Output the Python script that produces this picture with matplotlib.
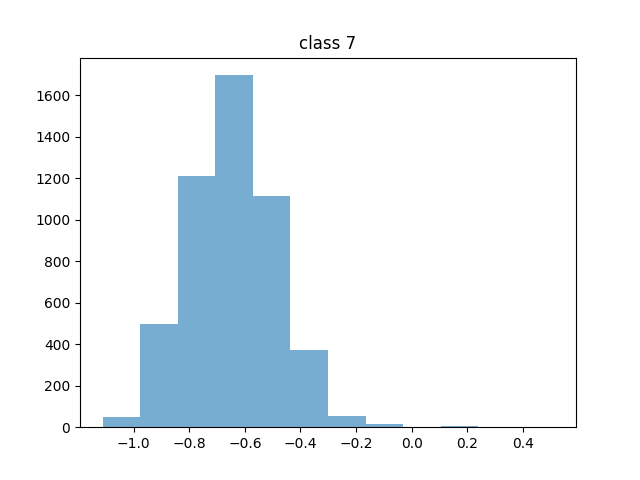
import matplotlib
matplotlib.use("Agg")
import matplotlib.pyplot as plt
import numpy as np

bin_edges = np.linspace(-1.112, 0.510, 13)
counts = [50, 496, 1210, 1696, 1112, 374, 54, 15, 0, 4, 0, 1]

centers = (bin_edges[:-1] + bin_edges[1:]) / 2

fig, ax = plt.subplots(figsize=(6.4, 4.8), dpi=100)

ax.hist(centers, bins=bin_edges, weights=counts, alpha=0.6)

ax.set_title("class 7")

plt.savefig("out.png", dpi=100)
